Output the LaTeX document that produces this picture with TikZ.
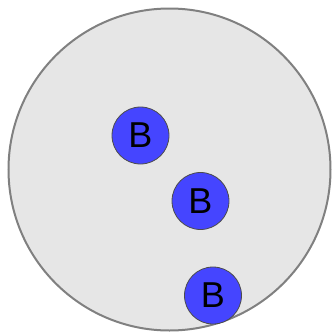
\documentclass[tikz,border=0pt]{standalone}
\usepackage{fontspec}
\setmainfont{Liberation Sans}
\usetikzlibrary{calc}
\definecolor{CellClr}{rgb}{0.902,0.902,0.902}
\definecolor{CellLine}{rgb}{0.5,0.5,0.5}
\definecolor{BallClr}{rgb}{0.27,0.27,1}

\tikzset{ball/.style={circle,draw=black!70,line width=0.8pt,fill=BallClr,
  minimum size=57pt,inner sep=0pt,font=\fontsize{36}{36}\selectfont}}

\begin{document}
\begin{tikzpicture}[x=1pt,y=-1pt]
\useasboundingbox (0,0) rectangle (335,335);

\coordinate (O) at (169.5,169.5);
\draw[fill=CellClr,draw=CellLine,line width=2pt] (O) circle (161);

\node[ball] (b1) at (140.5,135.5) {B};
\node[ball] (b2) at (200.5,201) {B};
\node[ball] (b3) at (213,295.5) {B};

\end{tikzpicture}
\end{document}
